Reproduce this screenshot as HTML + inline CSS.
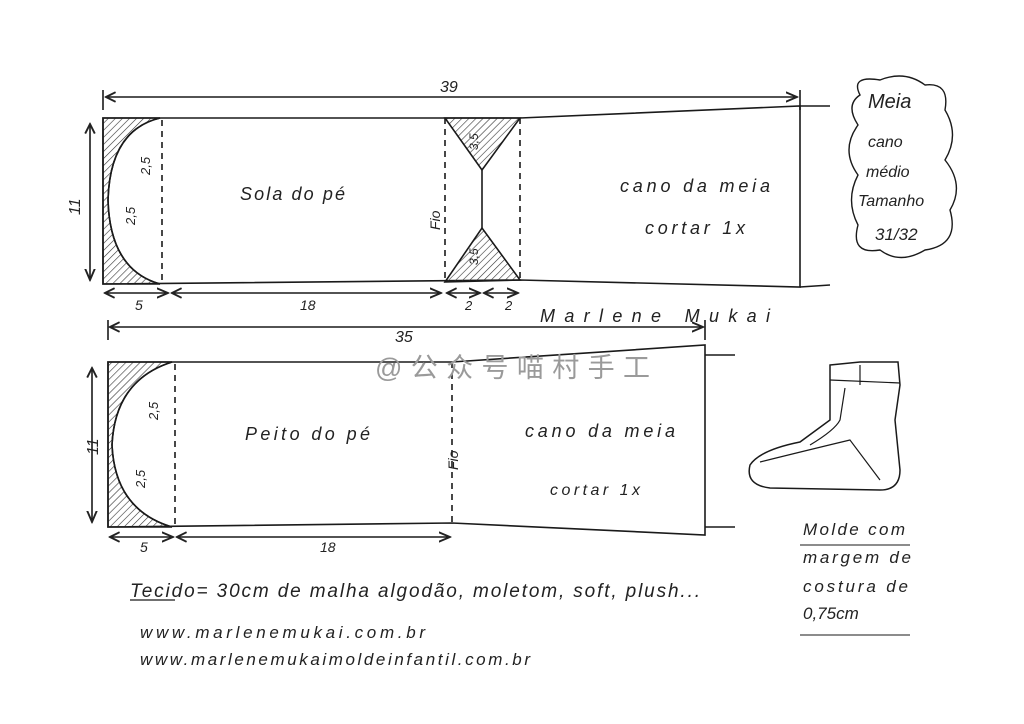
<!DOCTYPE html>
<html><head><meta charset="utf-8"><style>
body{margin:0;background:#fff;width:1024px;height:724px;overflow:hidden}
svg{display:block}
text{font-family:"Liberation Sans","Noto Sans CJK SC",sans-serif;fill:#222}
.h{font-family:"Liberation Serif",serif;font-style:italic;fill:#1a1a1a}
</style></head><body>
<svg width="1024" height="724" viewBox="0 0 1024 724" xmlns="http://www.w3.org/2000/svg">
<defs>
<pattern id="hatch" width="5" height="5" patternUnits="userSpaceOnUse" patternTransform="rotate(45)">
<line x1="0" y1="0" x2="0" y2="5" stroke="#333" stroke-width="1.2"/></pattern>
<marker id="ar" markerWidth="8" markerHeight="8" refX="7" refY="4" orient="auto"><path d="M0,1 L7,4 L0,7" fill="none" stroke="#222" stroke-width="1.2"/></marker>
<marker id="al" markerWidth="8" markerHeight="8" refX="1" refY="4" orient="auto"><path d="M7,1 L1,4 L7,7" fill="none" stroke="#222" stroke-width="1.2"/></marker>
</defs>
<g stroke="#1a1a1a" stroke-width="1.6" fill="none">
<path d="M103,90 V110 M800,90 V110"/>
<line x1="106" y1="97" x2="797" y2="97" marker-start="url(#al)" marker-end="url(#ar)"/>
<path d="M103,118 L520,118 L800,106 L800,287 L520,280 L103,284 Z"/>
<path d="M103,118 L160,118 Q110,130 108,200 Q110,270 160,284 L103,284 Z" fill="url(#hatch)"/>
<path d="M160,118 Q110,130 108,200 Q110,270 160,284" />
<path d="M162,120 V282 M445,118 V282 M520,118 V280" stroke-dasharray="6,5"/>
<path d="M445,118 L520,118 L482,170 Z" fill="url(#hatch)"/>
<path d="M445,282 L520,280 L482,228 Z" fill="url(#hatch)"/>
<line x1="482" y1="170" x2="482" y2="228"/>
<line x1="90" y1="124" x2="90" y2="280" marker-start="url(#al)" marker-end="url(#ar)"/>
<line x1="105" y1="293" x2="168" y2="293" marker-start="url(#al)" marker-end="url(#ar)"/>
<line x1="172" y1="293" x2="441" y2="293" marker-start="url(#al)" marker-end="url(#ar)"/>
<line x1="447" y1="293" x2="480" y2="293" marker-start="url(#al)" marker-end="url(#ar)"/>
<line x1="484" y1="293" x2="518" y2="293" marker-start="url(#al)" marker-end="url(#ar)"/>
<path d="M800,106 L830,106 M800,287 L830,285"/>
<path d="M108,320 V340 M705,320 V340"/>
<line x1="110" y1="327" x2="703" y2="327" marker-start="url(#al)" marker-end="url(#ar)"/>
<path d="M108,362 L452,362 L705,345 L705,535 L452,523 L108,527 Z"/>
<path d="M108,362 L172,362 Q115,380 112,445 Q115,510 172,527 L108,527 Z" fill="url(#hatch)"/>
<path d="M172,362 Q115,380 112,445 Q115,510 172,527"/>
<path d="M175,364 V525 M452,362 V523" stroke-dasharray="6,5"/>
<line x1="92" y1="368" x2="92" y2="522" marker-start="url(#al)" marker-end="url(#ar)"/>
<line x1="110" y1="537" x2="173" y2="537" marker-start="url(#al)" marker-end="url(#ar)"/>
<line x1="177" y1="537" x2="450" y2="537" marker-start="url(#al)" marker-end="url(#ar)"/>
<path d="M705,355 L735,355 M705,527 L735,527"/>
<path d="M860,95 Q850,75 880,80 Q905,70 925,85 Q950,82 945,110 Q960,135 945,160 Q965,185 950,210 Q960,245 925,250 Q900,265 880,250 Q850,255 858,225 Q845,200 858,175 Q840,150 858,125 Q845,105 860,95 Z" stroke-width="1.4"/>
<path d="M830,365 L860,362 L898,362 L900,385 L895,420 L900,470 Q900,490 880,490 L770,488 Q745,485 750,465 Q760,450 800,442 L830,420 L830,380 Z" stroke-width="1.5"/>
<path d="M830,380 L900,383 M860,365 L860,385 M760,462 Q800,452 850,440 L880,480 M845,388 L840,420 Q835,430 810,445" stroke-width="1.2"/>
<path d="M800,545 L910,545 M800,635 L910,635" stroke-width="1"/>
<path d="M130,600 L175,600" stroke-width="1.2"/>
</g>
<g class="h" font-size="16">
<text x="440" y="92">39</text>
<text x="240" y="200" font-size="18" textLength="105">Sola do pé</text>
<text x="620" y="192" font-size="18" textLength="150">cano da meia</text>
<text x="645" y="234" font-size="18" textLength="100">cortar 1x</text>
<text transform="translate(440,230) rotate(-90)" font-size="14">Fio</text>
<text transform="translate(80,215) rotate(-90)" font-size="16">11</text>
<text transform="translate(150,175) rotate(-90)" font-size="13">2,5</text>
<text transform="translate(135,225) rotate(-90)" font-size="13">2,5</text>
<text transform="translate(478,150) rotate(-90)" font-size="12">3,5</text>
<text transform="translate(478,265) rotate(-90)" font-size="12">3,5</text>
<text x="135" y="310" font-size="14">5</text>
<text x="300" y="310" font-size="14">18</text>
<text x="465" y="310" font-size="13">2</text>
<text x="505" y="310" font-size="13">2</text>
<text x="540" y="322" font-size="18" textLength="230">Marlene Mukai</text>
<text x="395" y="342">35</text>
<text x="245" y="440" font-size="18" textLength="125">Peito do pé</text>
<text x="525" y="437" font-size="18" textLength="150">cano da meia</text>
<text x="550" y="495" font-size="16" textLength="90">cortar 1x</text>
<text transform="translate(458,470) rotate(-90)" font-size="14">Fio</text>
<text transform="translate(98,455) rotate(-90)" font-size="16">11</text>
<text transform="translate(158,420) rotate(-90)" font-size="13">2,5</text>
<text transform="translate(145,488) rotate(-90)" font-size="13">2,5</text>
<text x="140" y="552" font-size="14">5</text>
<text x="320" y="552" font-size="14">18</text>
<text x="868" y="108" font-size="20">Meia</text>
<text x="868" y="147" font-size="16">cano</text>
<text x="866" y="177" font-size="16">médio</text>
<text x="858" y="206" font-size="16">Tamanho</text>
<text x="875" y="240" font-size="17">31/32</text>
<text x="803" y="535" font-size="17" textLength="102">Molde com</text>
<text x="803" y="563" font-size="17" textLength="108">margem de</text>
<text x="803" y="592" font-size="17" textLength="105">costura de</text>
<text x="803" y="619" font-size="17">0,75cm</text>
<text x="130" y="597" font-size="19" textLength="570">Tecido= 30cm de malha algodão, moletom, soft, plush...</text>
<text x="140" y="638" font-size="17" textLength="285">www.marlenemukai.com.br</text>
<text x="140" y="665" font-size="17" textLength="390">www.marlenemukaimoldeinfantil.com.br</text>
</g>
<text x="375" y="377" font-size="27" textLength="275" style="fill:#9a9a9a">@公众号喵村手工</text>
</svg>
</body></html>
